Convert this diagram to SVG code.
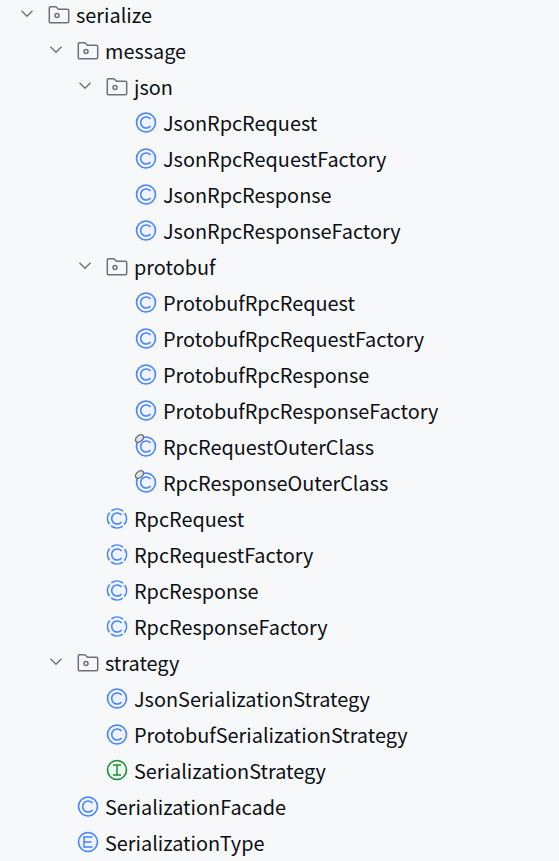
<svg xmlns="http://www.w3.org/2000/svg" width="559" height="861" viewBox="0 0 559 861">
<style>
text{font-family:"Noto Sans CJK SC","Noto Sans",sans-serif;font-size:19.86px;fill:#0c0f14}
.chev{fill:none;stroke:#6c707e;stroke-width:1.3}
.f{fill:none;stroke:#6c707e;stroke-width:1.5}
.cb{fill:#edf3ff;stroke:#4682fa;stroke-width:1.6}
.g{fill:none;stroke:#4682fa;stroke-width:1.5}
</style>
<defs>
<path id="chevron" class="chev" d="M-5.500-2.800L0 2.800L5.500-2.800"/>
<g id="folder"><path class="f" d="M-8.700-7.700H-3.800Q-3-7.700-2.500-7.200L-.5-5.200H8.200Q9.700-5.200 9.700-3.700V6.700Q9.700 8.200 8.200 8.200H-8.700Q-9.700 8.200-9.700 7.200V-6.700Q-9.700-7.700-8.700-7.700Z"/><circle class="f" cx="-2" cy="1" r="2"/></g>
<g id="cls"><circle class="cb" r="9.500"/><path class="g" d="M4.500-3.500A5.500 5.600 0 1 0 4.500 3.500"/></g>
<g id="abs"><circle class="cb" r="9.500" stroke-dasharray="12.400 2.520" stroke-dashoffset="-1.300" transform="rotate(45)"/><path class="g" d="M4.500-3.500A5.500 5.600 0 1 0 4.500 3.500"/></g>
<g id="lock"><use href="#cls"/><ellipse cx="-6.500" cy="-8" rx="4.600" ry="3" transform="rotate(-40 -6.500 -8)" fill="#e4e5e9" stroke="#6c707e" stroke-width="1.500"/></g>
</defs>
<rect width="559" height="861" fill="#f7f8fa"/>
<g id="connectors"/>
<g id="n-serialize"><use href="#chevron" x="27" y="13.500"/><use href="#folder" x="59" y="14.500"/><text x="76" y="23">serialize</text></g>
<g id="n-message"><use href="#chevron" x="56" y="49.500"/><use href="#folder" x="88" y="50.500"/><text x="105" y="59">message</text></g>
<g id="n-json"><use href="#chevron" x="85" y="85.500"/><use href="#folder" x="117" y="86.500"/><text x="134" y="95">json</text></g>
<g id="n-JsonRpcRequest"><use href="#cls" x="146" y="122.500"/><text x="163" y="131">JsonRpcRequest</text></g>
<g id="n-JsonRpcRequestFactory"><use href="#cls" x="146" y="158.500"/><text x="163" y="167">JsonRpcRequestFactory</text></g>
<g id="n-JsonRpcResponse"><use href="#cls" x="146" y="194.500"/><text x="163" y="203">JsonRpcResponse</text></g>
<g id="n-JsonRpcResponseFactory"><use href="#cls" x="146" y="230.500"/><text x="163" y="239">JsonRpcResponseFactory</text></g>
<g id="n-protobuf"><use href="#chevron" x="85" y="265.500"/><use href="#folder" x="117" y="266.500"/><text x="134" y="275">protobuf</text></g>
<g id="n-ProtobufRpcRequest"><use href="#cls" x="146" y="302.500"/><text x="163" y="311">ProtobufRpcRequest</text></g>
<g id="n-ProtobufRpcRequestFactory"><use href="#cls" x="146" y="338.500"/><text x="163" y="347">ProtobufRpcRequestFactory</text></g>
<g id="n-ProtobufRpcResponse"><use href="#cls" x="146" y="374.500"/><text x="163" y="383">ProtobufRpcResponse</text></g>
<g id="n-ProtobufRpcResponseFactory"><use href="#cls" x="146" y="410.500"/><text x="163" y="419">ProtobufRpcResponseFactory</text></g>
<g id="n-RpcRequestOuterClass"><use href="#lock" x="146" y="446.500"/><text x="163" y="455">RpcRequestOuterClass</text></g>
<g id="n-RpcResponseOuterClass"><use href="#lock" x="146" y="482.500"/><text x="163" y="491">RpcResponseOuterClass</text></g>
<g id="n-RpcRequest"><use href="#abs" x="117" y="518.500"/><text x="134" y="527">RpcRequest</text></g>
<g id="n-RpcRequestFactory"><use href="#abs" x="117" y="554.500"/><text x="134" y="563">RpcRequestFactory</text></g>
<g id="n-RpcResponse"><use href="#abs" x="117" y="590.500"/><text x="134" y="599">RpcResponse</text></g>
<g id="n-RpcResponseFactory"><use href="#abs" x="117" y="626.500"/><text x="134" y="635">RpcResponseFactory</text></g>
<g id="n-strategy"><use href="#chevron" x="56" y="661.500"/><use href="#folder" x="88" y="662.500"/><text x="105" y="671">strategy</text></g>
<g id="n-JsonSerializationStrategy"><use href="#cls" x="117" y="698.500"/><text x="134" y="707">JsonSerializationStrategy</text></g>
<g id="n-ProtobufSerializationStrategy"><use href="#cls" x="117" y="734.500"/><text x="134" y="743">ProtobufSerializationStrategy</text></g>
<g id="n-SerializationStrategy"><circle cx="117" cy="770" r="9.500" fill="#edf8ef" stroke="#208a3c" stroke-width="1.600"/><path d="M113 765H121M117 765V775M113 775H121" fill="none" stroke="#208a3c" stroke-width="1.500"/><text x="134" y="779">SerializationStrategy</text></g>
<g id="n-SerializationFacade"><use href="#cls" x="88" y="806.500"/><text x="105" y="815">SerializationFacade</text></g>
<g id="n-SerializationType"><circle cx="88" cy="842" r="9.500" fill="#edf3ff" stroke="#4682fa" stroke-width="1.600"/><path d="M92.500 837H84V847H92.500M84 842H91.500" fill="none" stroke="#4682fa" stroke-width="1.500"/><text x="105" y="851">SerializationType</text></g>
</svg>
